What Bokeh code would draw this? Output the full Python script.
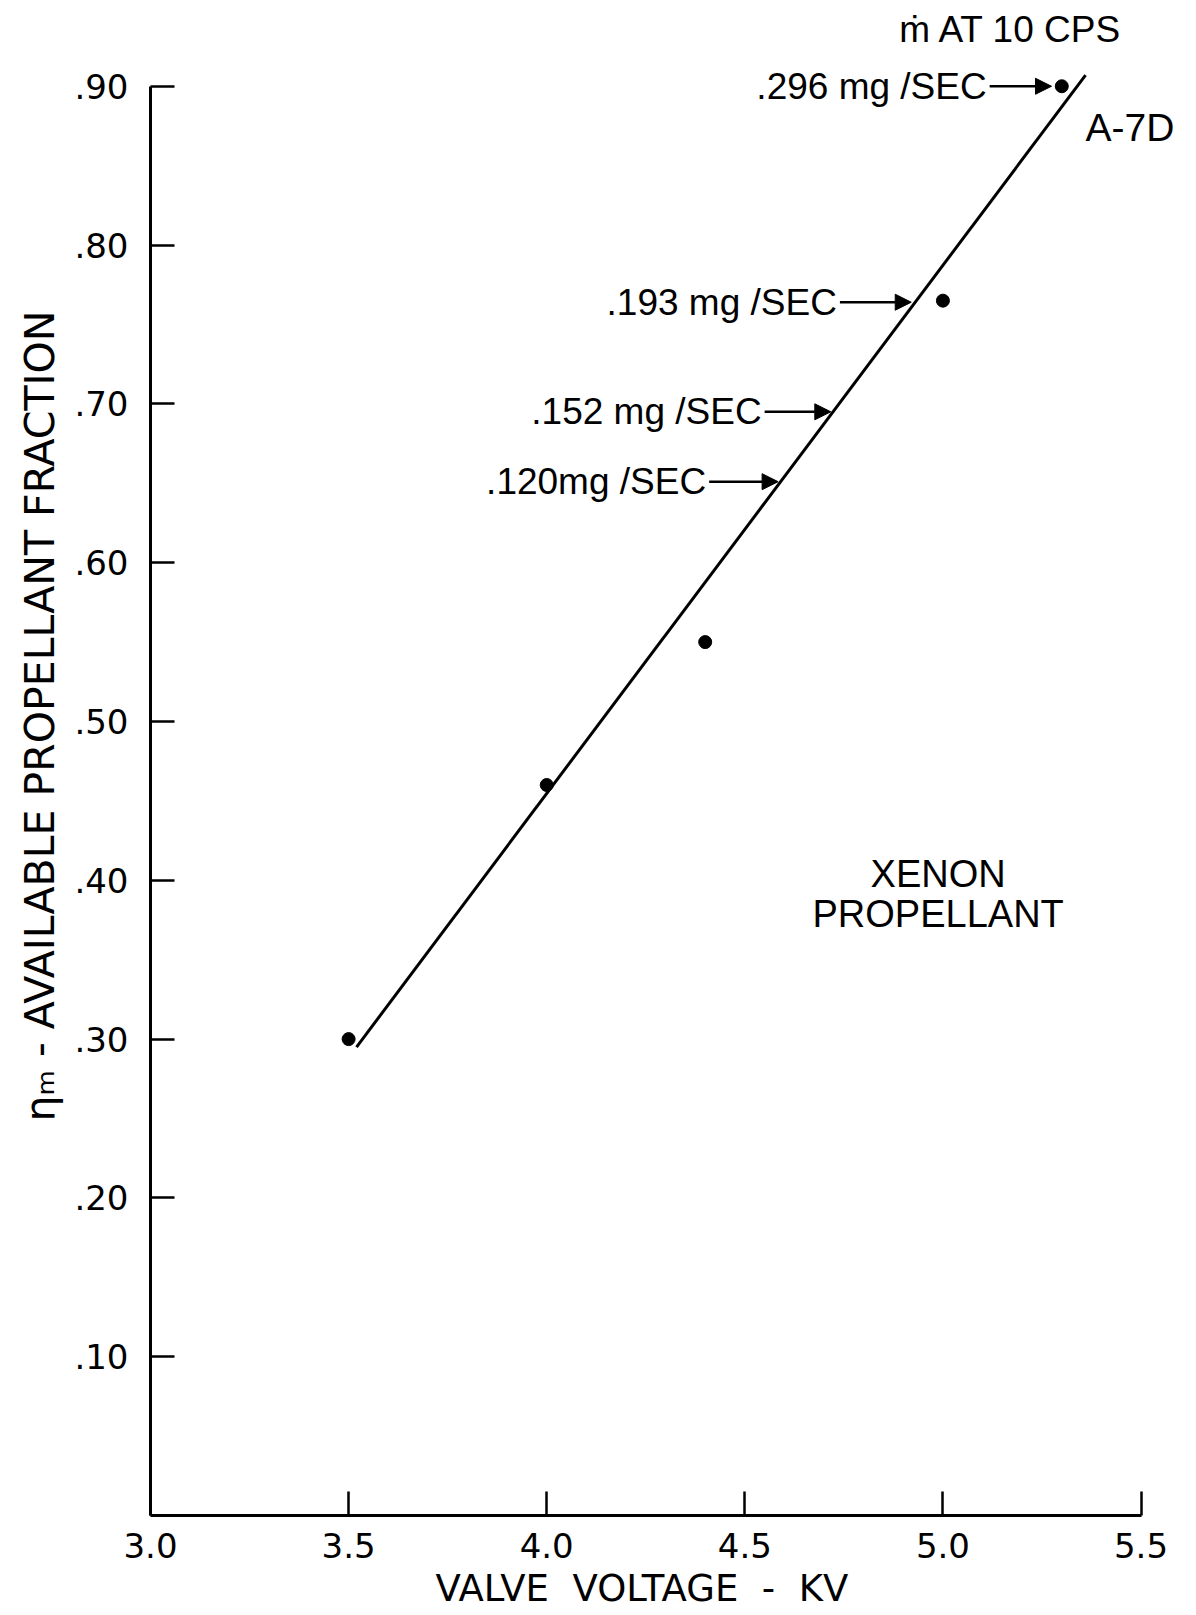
from bokeh.plotting import figure
from bokeh.models import ColumnDataSource, FixedTicker, Arrow, NormalHead, Title
from bokeh.core.properties import value
from bokeh.embed import file_html
from bokeh.resources import INLINE

# ---- data ----
voltage_kv = [3.5, 4.0, 4.4, 5.0, 5.3]
eta_m = [0.30, 0.46, 0.55, 0.765, 0.90]

fit_x = [3.52, 5.36]
fit_y = [0.295, 0.907]

flow_labels = [".296 mg /SEC", ".193 mg /SEC", ".152 mg /SEC", ".120mg /SEC"]
arrow_x_start = [5.118, 4.740, 4.550, 4.410]
arrow_x_end = [5.274, 4.920, 4.717, 4.584]
arrow_y = [0.900, 0.764, 0.695, 0.651]

x_ticks = [3.0, 3.5, 4.0, 4.5, 5.0, 5.5]
x_tick_labels = ["3.0", "3.5", "4.0", "4.5", "5.0", "5.5"]
y_ticks = [0.1, 0.2, 0.3, 0.4, 0.5, 0.6, 0.7, 0.8, 0.9]
y_tick_labels = [".10", ".20", ".30", ".40", ".50", ".60", ".70", ".80", ".90"]

x_title = "VALVE\u00a0 VOLTAGE\u00a0 -\u00a0 KV"
y_title = "\u03b7\u2098 - AVAILABLE PROPELLANT FRACTION"

FONT = "Liberation Sans"
AXFONT = "DejaVu Sans"

p = figure(width=1196, height=1615, x_range=(3.0, 5.64), y_range=(0.0, 0.954),
           output_backend="svg", toolbar_location=None,
           min_border_left=150, min_border_right=0, min_border_top=0,
           min_border_bottom=100)
p.outline_line_color = None
p.grid.visible = False
p.background_fill_color = "white"
p.border_fill_color = "white"

# axes
xa = p.xaxis[0]
xa.ticker = FixedTicker(ticks=x_ticks)
xa.major_label_overrides = {t: l for t, l in zip(x_ticks, x_tick_labels)}
xa.bounds = (3.0, 5.5)
ya = p.yaxis[0]
ya.ticker = FixedTicker(ticks=y_ticks)
ya.major_label_overrides = {t: l for t, l in zip(y_ticks, y_tick_labels)}
ya.bounds = (0.0, 0.9)

for ax in (xa, ya):
    ax.axis_line_width = 3
    ax.axis_line_color = "black"
    ax.major_tick_line_width = 2.5
    ax.major_tick_line_color = "black"
    ax.major_tick_in = 24
    ax.major_tick_out = 0
    ax.minor_tick_line_color = None
    ax.major_label_text_font = AXFONT
    ax.major_label_text_font_size = "34px"
    ax.major_label_text_color = "black"
xa.major_label_standoff = 17
ya.major_label_standoff = 22

# axis titles, placed to match the reference's positions
p.add_layout(Title(text=x_title, align="left", offset=285,
                   text_font=AXFONT, text_font_size="37px",
                   text_font_style="normal", text_color="black",
                   standoff=9), "below")
p.add_layout(Title(text=y_title, align="right", offset=310,
                   text_font=AXFONT, text_font_size="41px",
                   text_font_style="normal", text_color="black",
                   standoff=16), "left")

# fitted line and data points
p.line(fit_x, fit_y, line_width=3, line_color="black")
p.scatter(voltage_kv, eta_m, size=13, color="black")

# arrows and flow-rate labels
asrc = ColumnDataSource(dict(x0=arrow_x_start, x1=arrow_x_end, y=arrow_y, lab=flow_labels))
p.add_layout(Arrow(end=NormalHead(size=16, fill_color="black", line_color="black"),
                   x_start="x0", y_start="y", x_end="x1", y_end="y",
                   line_width=2.5, line_color="black", source=asrc))
p.text(x="x0", y="y", text="lab", source=asrc, x_offset=-3,
       text_align="right", text_baseline="middle",
       text_font=value(FONT), text_font_size="37px", text_color="black")

# other annotations
p.text(x=[5.185], y=[0.936], text=["\u1e41  AT 10 CPS"], text_align="center",
       text_baseline="middle", text_font=value(FONT), text_font_size="37px",
       text_color="black")
p.text(x=[5.36], y=[0.874], text=["A-7D"], text_align="left",
       text_baseline="middle", text_font=value(FONT), text_font_size="39px",
       text_color="black")
p.text(x=[4.988, 4.988], y=[0.404, 0.379], text=["XENON", "PROPELLANT"],
       text_align="center", text_baseline="middle", text_font=value(FONT),
       text_font_size="38px", text_color="black")

open("out.html", "w").write(file_html(p, INLINE))
